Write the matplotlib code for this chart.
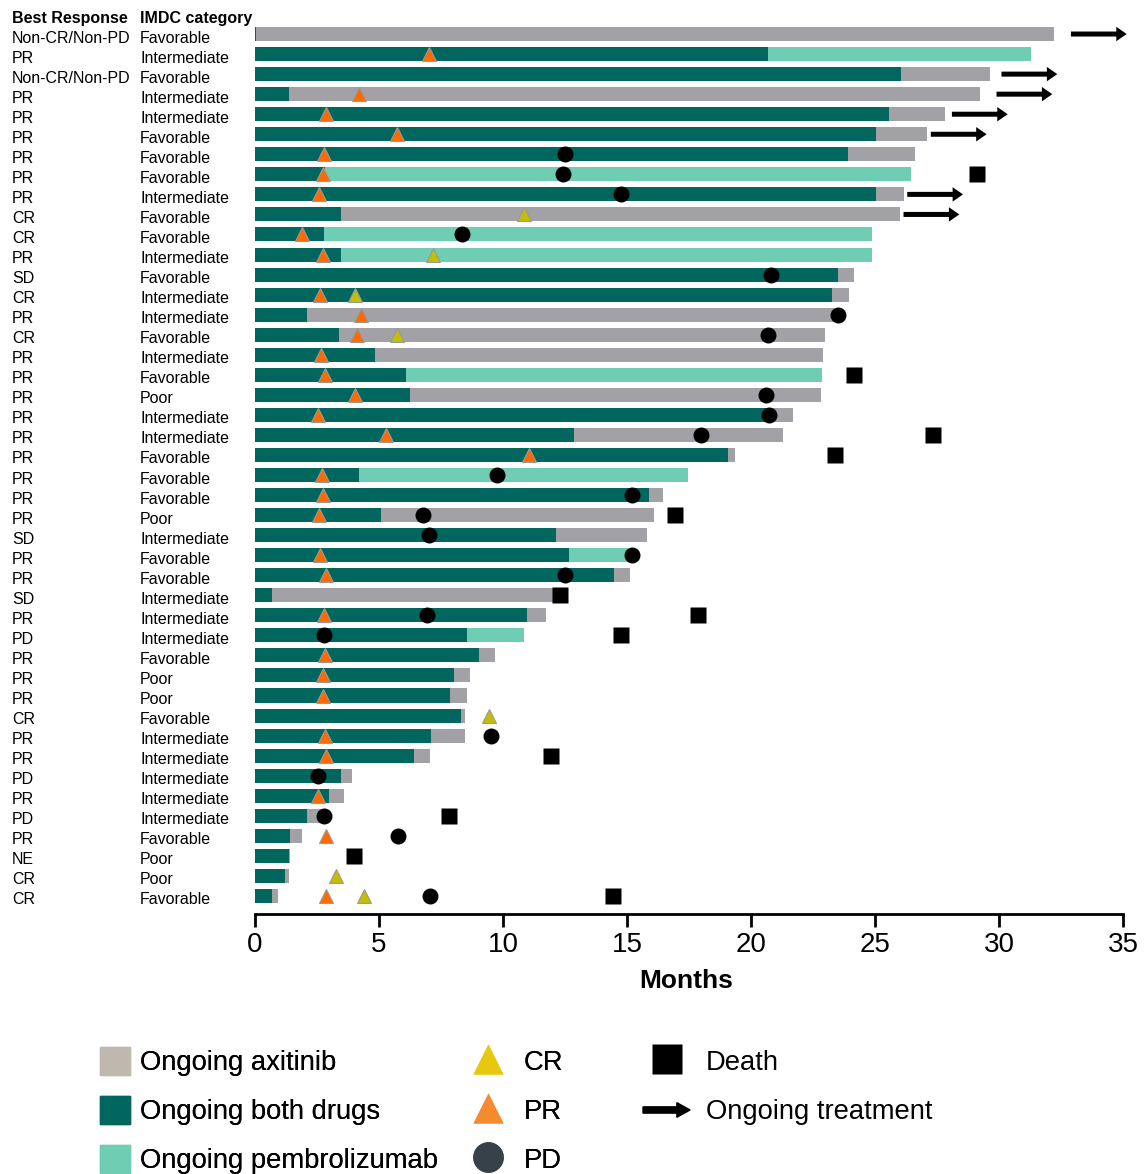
import matplotlib
matplotlib.use("Agg")
import matplotlib.pyplot as plt
import matplotlib.patches as mpatches
import matplotlib.transforms as mtransforms
from matplotlib.lines import Line2D
from matplotlib.legend_handler import HandlerPatch

plt.rcParams["font.family"] = ["Liberation Sans", "DejaVu Sans"]

# ---- patient rows (top to bottom) ----
best_response = [
    "Non-CR/Non-PD", "PR", "Non-CR/Non-PD", "PR", "PR", "PR", "PR", "PR", "PR", "CR",
    "CR", "PR", "SD", "CR", "PR", "CR", "PR", "PR", "PR", "PR",
    "PR", "PR", "PR", "PR", "PR", "SD", "PR", "PR", "SD", "PR",
    "PD", "PR", "PR", "PR", "CR", "PR", "PR", "PD", "PR", "PD",
    "PR", "NE", "CR", "CR",
]
imdc = [
    "Favorable", "Intermediate", "Favorable", "Intermediate", "Intermediate", "Favorable",
    "Favorable", "Favorable", "Intermediate", "Favorable", "Favorable", "Intermediate",
    "Favorable", "Intermediate", "Intermediate", "Favorable", "Intermediate", "Favorable",
    "Poor", "Intermediate", "Intermediate", "Favorable", "Favorable", "Favorable", "Poor",
    "Intermediate", "Favorable", "Favorable", "Intermediate", "Intermediate", "Intermediate",
    "Favorable", "Poor", "Poor", "Favorable", "Intermediate", "Intermediate", "Intermediate",
    "Intermediate", "Intermediate", "Favorable", "Poor", "Poor", "Favorable",
]

# months on both drugs, then total treatment time; the tail is single-agent
both_end = [
    0.05, 20.68, 26.05, 1.37, 25.56, 25.04, 23.90, 2.84, 25.04, 3.47,
    2.79, 3.47, 23.51, 23.27, 2.09, 3.39, 4.84, 6.09, 6.25, 20.85,
    12.87, 19.07, 4.19, 15.89, 5.09, 12.13, 12.66, 14.48, 0.69, 10.98,
    8.54, 9.04, 8.02, 7.86, 8.31, 7.09, 6.41, 3.47, 2.98, 2.10,
    1.42, 1.38, 1.20, 0.68,
]
total_end = [
    32.20, 31.30, 29.65, 29.23, 27.82, 27.10, 26.60, 26.45, 26.17, 26.00,
    24.88, 24.88, 24.15, 23.95, 23.45, 22.98, 22.90, 22.86, 22.82, 21.69,
    21.29, 19.36, 17.46, 16.45, 16.09, 15.81, 15.19, 15.12, 12.05, 11.74,
    10.83, 9.69, 8.67, 8.54, 8.47, 8.47, 7.06, 3.90, 3.60, 2.68,
    1.89, 1.42, 1.36, 0.93,
]
# which single agent continues after combination: A = axitinib, P = pembrolizumab
tail_drug = [
    "A", "P", "A", "A", "A", "A", "A", "P", "A", "A",
    "P", "P", "A", "A", "A", "A", "A", "P", "A", "A",
    "A", "A", "P", "A", "A", "A", "P", "A", "A", "A",
    "P", "A", "A", "A", "A", "A", "A", "A", "A", "A",
    "A", "A", "A", "A",
]

# response / event times (row index, month)
pr_rows = [1, 3, 4, 5, 6, 7, 8, 10, 11, 13, 14, 15, 16, 17, 18, 19, 20, 21, 22, 23,
           24, 26, 27, 29, 31, 32, 33, 35, 36, 38, 40, 43]
pr_month = [7.03, 4.18, 2.85, 5.74, 2.79, 2.76, 2.60, 1.91, 2.76, 2.63, 4.27, 4.13, 2.66,
            2.82, 4.02, 2.53, 5.29, 11.06, 2.71, 2.76, 2.60, 2.63, 2.85, 2.79, 2.82, 2.76,
            2.76, 2.82, 2.88, 2.54, 2.86, 2.86]
cr_rows = [9, 11, 13, 15, 34, 42, 43]
cr_month = [10.86, 7.16, 4.04, 5.74, 9.44, 3.25, 4.39]
pd_rows = [6, 7, 8, 10, 12, 14, 15, 18, 19, 20, 22, 23, 24, 25, 26, 27, 29, 30, 35, 37,
           39, 40, 43]
pd_month = [12.48, 12.43, 14.77, 8.36, 20.80, 23.52, 20.70, 20.60, 20.73, 17.97, 9.75,
            15.20, 6.77, 7.00, 15.20, 12.48, 6.95, 2.80, 9.52, 2.54, 2.77, 5.76, 7.04]
death_rows = [7, 17, 20, 21, 24, 28, 29, 30, 36, 39, 41, 43]
death_month = [29.10, 24.15, 27.32, 23.40, 16.94, 12.28, 17.86, 14.74, 11.94, 7.83, 4.01, 14.45]
ongoing_rows = [0, 2, 3, 4, 5, 8, 9]
ongoing_start = [32.90, 30.10, 29.90, 28.10, 27.25, 26.30, 26.15]

xticks = [0, 5, 10, 15, 20, 25, 30, 35]

# ---- colours ----
C_AXI = "#A2A1A6"
C_BOTH = "#00665E"
C_PEMBRO = "#6ECDB2"
C_PR = "#FF6A00"
C_CR = "#C4BC05"
LEG_AXI = "#BFB8AE"
LEG_CR = "#E6C80F"
LEG_PR = "#F58A2E"
LEG_PD = "#37414A"

W, H = 1145, 1174
fig = plt.figure(figsize=(W / 100, H / 100), dpi=100)
ax = fig.add_axes([255 / W, 1 - 914 / H, 868 / W, 894 / H])

n = len(best_response)
rows = list(range(n))
bar_h = 0.7

# combination segment
ax.barh(rows, both_end, height=bar_h, color=C_BOTH, zorder=2)
# single-agent tail
tail_len = [t - b for t, b in zip(total_end, both_end)]
tail_col = [C_AXI if d == "A" else C_PEMBRO for d in tail_drug]
ax.barh(rows, tail_len, left=both_end, height=bar_h, color=tail_col, zorder=2)

# markers
ax.plot(pr_month, pr_rows, ls="none", marker="^", ms=10.5, color=C_PR,
        mec="#9a9a9a", mew=0.8, zorder=4, clip_on=False)
ax.plot(cr_month, cr_rows, ls="none", marker="^", ms=10.5, color=C_CR,
        mec="#9a9a9a", mew=0.8, zorder=4, clip_on=False)
ax.plot(pd_month, pd_rows, ls="none", marker="o", ms=11.5, color="black",
        mec="none", zorder=5, clip_on=False)
ax.plot(death_month, death_rows, ls="none", marker="s", ms=11, color="black",
        mec="none", zorder=5, clip_on=False)

# ongoing-treatment arrows
for r, x0 in zip(ongoing_rows, ongoing_start):
    ax.arrow(x0, r, 2.25, 0, width=0.25, head_width=0.72, head_length=0.42,
             length_includes_head=True, color="black", lw=0, zorder=5, clip_on=False)

ax.set_xlim(0, 35)
ax.set_ylim(43.9, -0.7)
ax.set_yticks([])
for s in ("top", "right", "left"):
    ax.spines[s].set_visible(False)
ax.spines["bottom"].set_linewidth(2.0)
ax.set_xticks(xticks)
ax.set_xticklabels([str(t) for t in xticks])
ax.tick_params(axis="x", direction="out", length=9, width=2.0, labelsize=20, pad=4)
ax.set_xlabel("Months", fontsize=19, fontweight="bold")
ax.xaxis.set_label_coords((686 - 255) / 868, -(981 - 914) / 894)
ax.xaxis.label.set_va("center")

# row annotations at the left
trans = mtransforms.blended_transform_factory(fig.transFigure, ax.transData)
for r in rows:
    ax.text(12 / W, r + 0.2, best_response[r], transform=trans, fontsize=11.5,
            va="center", ha="left")
    ax.text(140 / W, r + 0.2, imdc[r], transform=trans, fontsize=11.5,
            va="center", ha="left")
fig.text(12 / W, 1 - 19 / H, "Best Response", fontsize=11.5, fontweight="bold",
         va="center", ha="left")
fig.text(140 / W, 1 - 19 / H, "IMDC category", fontsize=11.5, fontweight="bold",
         va="center", ha="left")


# ---- legend ----
def arrow_patch(legend, orig_handle, xdescent, ydescent, width, height, fontsize):
    return mpatches.FancyArrow(-xdescent, -ydescent + height / 2, width, 0,
                               width=4.5, head_width=10.5, head_length=9.5,
                               length_includes_head=True, color="black", lw=0)


leg_kw = dict(frameon=False, fontsize=19.7, borderpad=0, borderaxespad=0,
              handleheight=1.2, labelspacing=0.72, loc="upper left")
top = 1 - 1047 / H

h1 = [mpatches.Patch(color=LEG_AXI, label="Ongoing axitinib"),
      mpatches.Patch(color=C_BOTH, label="Ongoing both drugs"),
      mpatches.Patch(color=C_PEMBRO, label="Ongoing pembrolizumab")]
leg1 = fig.legend(handles=h1, bbox_to_anchor=(100 / W, top), handlelength=1.1,
                  handletextpad=0.36, **leg_kw)

h2 = [Line2D([], [], ls="none", marker="^", ms=22, color=LEG_CR, mec="none", label="CR"),
      Line2D([], [], ls="none", marker="^", ms=22, color=LEG_PR, mec="none", label="PR"),
      Line2D([], [], ls="none", marker="o", ms=22, color=LEG_PD, mec="none", label="PD")]
leg2 = fig.legend(handles=h2, bbox_to_anchor=(473 / W, top), handlelength=1.1,
                  handletextpad=0.75, **leg_kw)
fig.add_artist(leg1)

arrow_handle = mpatches.Patch(color="black", label="Ongoing treatment")
h3 = [Line2D([], [], ls="none", marker="s", ms=22, color="black", mec="none", label="Death"),
      arrow_handle]
leg3 = fig.legend(handles=h3, bbox_to_anchor=(643 / W, top), handlelength=1.72,
                  handletextpad=0.58,
                  handler_map={arrow_handle: HandlerPatch(patch_func=arrow_patch)},
                  **leg_kw)
fig.add_artist(leg2)

fig.savefig("out.png", dpi=100)
